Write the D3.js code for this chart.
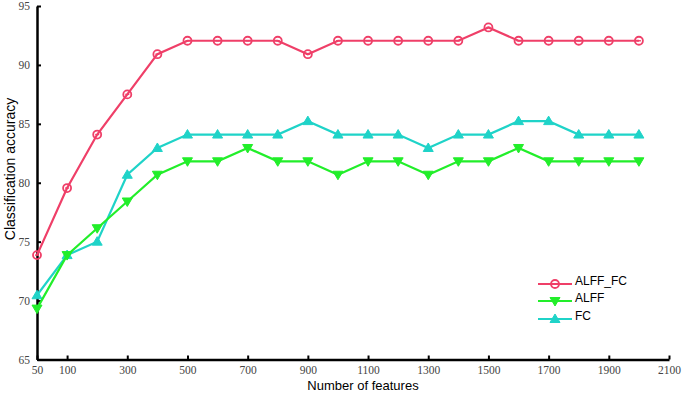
<!DOCTYPE html>
<html>
<head>
<meta charset="utf-8">
<script src="https://cdn.jsdelivr.net/npm/d3@7"></script>
<style>
  body { margin: 0; background: #fff; }
  svg { display: block; }
</style>
</head>
<body>
<div class="container"></div>
<script>
const width = 685, height = 393;

// data (accuracy, %)
const features = [50, 100, 200, 300, 400, 500, 600, 700, 800, 900, 1000,
  1100, 1200, 1300, 1400, 1500, 1600, 1700, 1800, 1900, 2000];
const alffFc = [73.86, 79.55, 84.09, 87.5, 90.91, 92.05, 92.05, 92.05, 92.05, 90.91, 92.05,
  92.05, 92.05, 92.05, 92.05, 93.18, 92.05, 92.05, 92.05, 92.05, 92.05];
const alff = [69.32, 73.86, 76.14, 78.41, 80.68, 81.82, 81.82, 82.95, 81.82, 81.82, 80.68,
  81.82, 81.82, 80.68, 81.82, 81.82, 82.95, 81.82, 81.82, 81.82, 81.82];
const fc = [70.45, 73.86, 75, 80.68, 82.95, 84.09, 84.09, 84.09, 84.09, 85.23, 84.09,
  84.09, 84.09, 82.95, 84.09, 84.09, 85.23, 85.23, 84.09, 84.09, 84.09];
const xTicks = [50, 100, 300, 500, 700, 900, 1100, 1300, 1500, 1700, 1900, 2100];
const yTicks = [65, 70, 75, 80, 85, 90, 95];

const series = [
  { name: "ALFF_FC", values: alffFc, color: "#ef3f68", marker: "circle" },
  { name: "ALFF", values: alff, color: "#22ee2a", marker: "down" },
  { name: "FC", values: fc, color: "#1fd3c8", marker: "up" }
];

const svg = d3.select(".container")
  .append("svg")
  .attr("width", width)
  .attr("height", height);

// x positions are evenly spaced by sample index, not by value
const x = d3.scalePoint()
  .domain(features.concat([2100]))
  .range([37, 669]);
const y = d3.scaleLinear()
  .domain([65, 95])
  .range([359.5, 6]);

const tickFont = "'Liberation Serif', 'DejaVu Serif', serif";

// x axis
const xAxis = svg.append("g")
  .attr("transform", `translate(0,${y(65)})`)
  .call(d3.axisBottom(x).tickValues(xTicks).tickSize(-4).tickPadding(6).tickSizeOuter(0));
xAxis.select(".domain").attr("stroke", "#000").attr("stroke-width", 2.5);
xAxis.selectAll(".tick line").attr("stroke", "#000").attr("stroke-width", 2);
xAxis.selectAll(".tick text")
  .attr("fill", "#444")
  .style("font-family", tickFont)
  .style("font-size", "11.5px");

// y axis
const yAxis = svg.append("g")
  .attr("transform", `translate(${x(50)},0)`)
  .call(d3.axisLeft(y).tickValues(yTicks).tickSize(-4).tickPadding(7).tickSizeOuter(0));
yAxis.select(".domain").attr("stroke", "#000").attr("stroke-width", 2.5);
yAxis.selectAll(".tick line").attr("stroke", "#000").attr("stroke-width", 2);
yAxis.selectAll(".tick text")
  .attr("fill", "#444")
  .style("font-family", tickFont)
  .style("font-size", "11.5px");

// axis titles
svg.append("text")
  .attr("x", 363)
  .attr("y", 390)
  .attr("text-anchor", "middle")
  .style("font-family", "'Liberation Sans', Arial, sans-serif")
  .style("font-size", "13px")
  .text("Number of features");

svg.append("text")
  .attr("transform", "translate(15,169) rotate(-90)")
  .attr("text-anchor", "middle")
  .style("font-family", "'Liberation Sans', Arial, sans-serif")
  .style("font-size", "14px")
  .text("Classification accuracy");

const line = d3.line()
  .x((d, i) => x(features[i]))
  .y(d => y(d));

function drawMarker(g, type, color) {
  if (type === "circle") {
    g.append("circle").attr("r", 4)
      .attr("fill", "none").attr("stroke", color).attr("stroke-width", 1.8);
    g.append("line").attr("x1", -2).attr("x2", 2)
      .attr("stroke", color).attr("stroke-width", 1.4);
  } else {
    const s = type === "up" ? -1 : 1;
    g.append("path")
      .attr("d", `M-5,${-3.5 * s}L5,${-3.5 * s}L0,${5 * s}Z`)
      .attr("fill", color).attr("stroke", color).attr("stroke-width", 1);
  }
}

// draw back-to-front so ALFF_FC sits on top like the original
[series[2], series[1], series[0]].forEach(s => {
  const g = svg.append("g");
  g.append("path")
    .datum(s.values)
    .attr("d", line)
    .attr("fill", "none")
    .attr("stroke", s.color)
    .attr("stroke-width", 2.2);
  g.selectAll(".pt")
    .data(s.values)
    .join("g")
    .attr("transform", (d, i) => `translate(${x(features[i])},${y(d)})`)
    .each(function () { drawMarker(d3.select(this), s.marker, s.color); });
});

// legend
const legend = svg.append("g").attr("transform", "translate(538,284)");
const legendY = [0, 17, 35];
series.forEach((s, i) => {
  const row = legend.append("g").attr("transform", `translate(0,${legendY[i]})`);
  row.append("line").attr("x1", 0).attr("x2", 34)
    .attr("stroke", s.color).attr("stroke-width", 2.2);
  drawMarker(row.append("g").attr("transform", "translate(17,0)"), s.marker, s.color);
  row.append("text")
    .attr("x", 37)
    .attr("y", 0)
    .attr("dy", "0.1em")
    .style("font-family", "'Liberation Sans', Arial, sans-serif")
    .style("font-size", "12px")
    .text(s.name);
});
</script>
</body>
</html>
